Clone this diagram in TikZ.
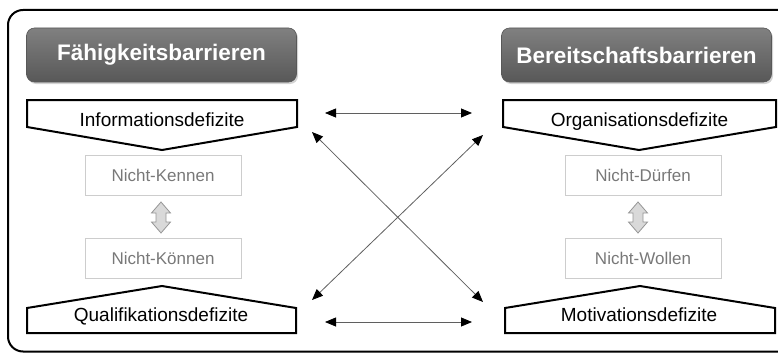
\documentclass[tikz,border=0pt]{standalone}
\usepackage{fontspec}
\setmainfont{Liberation Sans}
\usetikzlibrary{arrows.meta,shadows}

\definecolor{hdtop}{RGB}{128,128,128}
\definecolor{hdbot}{RGB}{88,88,88}
\definecolor{boxgray}{RGB}{205,205,205}
\definecolor{txtgray}{RGB}{120,120,120}
\definecolor{linkgray}{RGB}{95,95,95}
\definecolor{swapfill}{RGB}{217,217,217}
\definecolor{swapdraw}{RGB}{150,150,150}

\begin{document}
\begin{tikzpicture}[x=1pt,y=1pt,yscale=-1,xscale=1,
  header/.style={rounded corners=8pt,minimum width=270pt,minimum height=54pt,top color=hdtop,bottom color=hdbot,draw=hdbot,line width=0.6pt,text=white,font=\fontsize{22.5}{26}\selectfont\bfseries,drop shadow={shadow xshift=1.5pt,shadow yshift=-2pt,opacity=0.35}},
  deficit/.style={inner sep=0pt,anchor=base,font=\fontsize{19}{22}\selectfont},
  reason/.style={draw=boxgray,line width=0.8pt,minimum width=156pt,minimum height=40pt,text=txtgray,font=\fontsize{17}{20}\selectfont},
  penta/.style={draw=black,line width=2pt,line join=miter},
  link/.style={draw=linkgray,line width=0.8pt,{Triangle[length=11pt,width=9pt,black]}-{Triangle[length=11pt,width=9pt,black]}},
  swap/.style={fill=swapfill,draw=swapdraw,line width=0.8pt}]
\clip (0,0) rectangle (778,353); %page is 778 x 353

%Rounded Rect (outer frame)
\draw [line width=2pt,rounded corners=15pt] (8,10) rectangle (800,351.5);

% Headers
\node [header] (faehig) at (161.5,55) {Fähigkeitsbarrieren};
\node [header] (bereit) at (636.5,55) {Bereitschaftsbarrieren};

%Shape: Pentagons
\draw [penta] (27,100) -- (297,100) -- (297,127) -- (162,150) -- (27,127) -- cycle;
\draw [penta] (503,100) -- (776,100) -- (776,127) -- (639,150) -- (503,127) -- cycle;
\draw [penta] (27,333) -- (296,333) -- (296,308) -- (162,286) -- (27,308) -- cycle;
\draw [penta] (505,333) -- (775,333) -- (775,308) -- (640,286) -- (505,308) -- cycle;

% Text Node
\node [deficit] (info) at (162,126) {Informationsdefizite};
\node [deficit] (orga) at (639.5,126) {Organisationsdefizite};
\node [deficit] (quali) at (161,321) {Qualifikationsdefizite};
\node [deficit] (motiv) at (639,321) {Motivationsdefizite};

% Reason boxes
\node [reason] (kennen) at (163,175) {Nicht-Kennen};
\node [reason] (koennen) at (163,258.5) {Nicht-Können};
\node [reason] (duerfen) at (643,175) {Nicht-Dürfen};
\node [reason] (wollen) at (643,258.5) {Nicht-Wollen};

%Shape: Up Down Arrows
\foreach \cx in {161,638}
  \draw [swap] (\cx,202) -- (\cx+9.5,213) -- (\cx+5,213) -- (\cx+5,222) -- (\cx+9.5,222) -- (\cx,233)
    -- (\cx-9.5,222) -- (\cx-5,222) -- (\cx-5,213) -- (\cx-9.5,213) -- cycle;

% Arrow ends
\coordinate (lt) at (325,113);
\coordinate (rt) at (472,113);
\coordinate (lb) at (325,322);
\coordinate (rb) at (472,322);
\coordinate (ltx) at (312,132);
\coordinate (rbx) at (483,302);
\coordinate (lbx) at (312,300);
\coordinate (rtx) at (483,135);

%Straight Lines
\draw [link] (lt) -- (rt);
\draw [link] (lb) -- (rb);
\draw [link] (ltx) -- (rbx);
\draw [link] (lbx) -- (rtx);

\end{tikzpicture}
\end{document}
